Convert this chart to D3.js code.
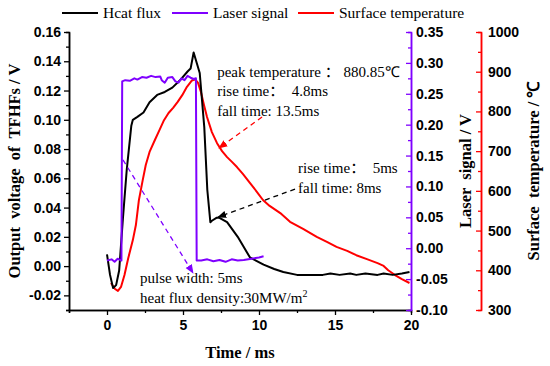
<!DOCTYPE html>
<html>
<head>
<meta charset="utf-8">
<script src="https://cdn.jsdelivr.net/npm/d3@7"></script>
<style>
  body { margin: 0; background: #fff; }
  svg { font-family: "Liberation Serif", "Times New Roman", serif; }
  .tick text { font-weight: bold; font-size: 14px; }
  .label { font-weight: bold; font-size: 16.5px; }
  .note { font-size: 15px; }
  .cjk { font-family: "Noto Sans CJK SC", sans-serif; }
</style>
</head>
<body>
<svg class="js-chart" width="550" height="366"></svg>
<script>
// time axis ticks (ms)
const timeTicks = [0, 5, 10, 15, 20];
const timeMinor = [-2.5, 2.5, 7.5, 12.5, 17.5];
const fluxTicks = [-0.02, 0, 0.02, 0.04, 0.06, 0.08, 0.10, 0.12, 0.14, 0.16];
const fluxMinor = [-0.03, -0.01, 0.01, 0.03, 0.05, 0.07, 0.09, 0.11, 0.13, 0.15];
const laserTicks = [-0.10, -0.05, 0, 0.05, 0.10, 0.15, 0.20, 0.25, 0.30, 0.35];
const laserMinor = [-0.075, -0.025, 0.025, 0.075, 0.125, 0.175, 0.225, 0.275, 0.325];
const tempTicks = [300, 400, 500, 600, 700, 800, 900, 1000];
const tempMinor = [350, 450, 550, 650, 750, 850, 950];

// heat flux (output voltage of TFHFs, V)
const fluxTime = [0, 0.2, 0.4, 0.6, 0.8, 1.05, 1.3, 1.6, 1.7, 2.0, 2.4, 2.8, 3.3, 3.8, 4.3, 4.8, 5.3, 5.5, 5.7,
  5.9, 6.1, 6.4, 6.6, 6.8, 6.9, 7.2, 7.4, 7.9, 8.6, 9.4, 10.3, 11.0, 11.6, 12.5, 13.2, 14.2, 14.7, 15.3, 16.0, 16.4,
  17.0, 17.8, 18.2, 18.8, 19.4, 19.9];
const fluxValue = [0.008, -0.006, -0.015, -0.013, -0.003, 0.033, 0.066, 0.096, 0.100, 0.102, 0.105, 0.112, 0.117,
  0.119, 0.122, 0.127, 0.133, 0.135, 0.146, 0.139, 0.132, 0.095, 0.052, 0.030, 0.031, 0.033, 0.033, 0.030, 0.020,
  0.006, 0.001, -0.002, -0.004, -0.006, -0.006, -0.006, -0.005, -0.006, -0.005, -0.006, -0.005, -0.006, -0.005,
  -0.006, -0.005, -0.004];

// laser signal (V)
const laserTime = [0, 0.3, 0.5, 0.7, 0.95, 1.0, 1.2, 1.5, 1.8, 2.0, 2.3, 2.6, 2.9, 3.2, 3.5, 3.6, 3.8, 4.0, 4.3,
  4.5, 4.7, 4.9, 5.1, 5.3, 5.5, 5.7, 5.85, 5.9, 6.2, 6.6, 7.0, 7.4, 7.8, 8.2, 8.6, 9.0, 9.5, 10.0, 10.3];
const laserValue = [-0.020, -0.018, -0.022, -0.017, -0.020, 0.270, 0.272, 0.271, 0.275, 0.273, 0.277, 0.276, 0.279,
  0.277, 0.278, 0.272, 0.268, 0.276, 0.277, 0.270, 0.268, 0.275, 0.272, 0.279, 0.276, 0.274, 0.275, -0.020, -0.020,
  -0.018, -0.021, -0.019, -0.022, -0.018, -0.020, -0.019, -0.017, -0.015, -0.013];

// surface temperature (°C)
const tempTime = [0.26, 0.53, 0.72, 0.92, 1.15, 1.4, 1.7, 1.9, 2.1, 2.35, 2.55, 2.8, 3.15, 3.45, 3.75, 4.05,
  4.35, 4.65, 4.95, 5.26, 5.59, 5.79, 5.99, 6.18, 6.38, 6.58, 6.9, 7.24, 7.57, 7.9, 8.22, 8.55, 8.95, 9.4, 9.87,
  10.26, 10.7, 11.4, 12.04, 12.9, 13.8, 14.5, 15.1, 15.8, 16.4, 17.1, 17.8, 18.2, 18.5, 18.95, 19.4, 19.9];
const tempValue = [368, 353, 348, 358, 388, 431, 476, 514, 577, 627, 665, 698, 728, 753, 778, 796, 809, 824, 841,
  862, 878, 881, 872, 849, 816, 786, 748, 720, 700, 685, 673, 660, 642, 620, 597, 577, 562, 544, 522, 504, 484,
  471, 459, 449, 438, 428, 418, 411, 400, 388, 378, 368];

const legendNames = ['Hcat flux', 'Laser signal', 'Surface temperature'];
const colors = ['#000000', '#7f00ff', '#ff0000'];

const drawChart = () => {
  const svg = d3.select('.js-chart');
  const plot = {left: 69, right: 411, top: 32, bottom: 310};

  const x = d3.scaleLinear().domain([-2.5, 20]).range([plot.left, plot.right]);
  const yFlux = d3.scaleLinear().domain([-0.03, 0.16]).range([plot.bottom, plot.top]);
  const yLaser = d3.scaleLinear().domain([-0.10, 0.35]).range([plot.bottom, plot.top]);
  const yTemp = d3.scaleLinear().domain([300, 1000]).range([plot.bottom, plot.top]);

  // arrow markers
  const defs = svg.append('defs');
  colors.forEach((c, i) => {
    defs.append('marker')
      .attr('id', 'arrow' + i)
      .attr('viewBox', '0 0 10 10')
      .attr('refX', 9).attr('refY', 5)
      .attr('markerWidth', 7).attr('markerHeight', 7)
      .attr('orient', 'auto')
      .append('path')
      .attr('d', 'M0,1 L10,5 L0,9 Z')
      .attr('fill', c);
  });

  // axes
  const fmt2 = d => d.toFixed(2);
  const styleAxis = (g, color) => {
    g.select('.domain').attr('stroke', color).attr('stroke-width', 1.5);
    g.selectAll('.tick line').attr('stroke', color).attr('stroke-width', 1.3);
    g.selectAll('.tick text').attr('fill', '#000');
  };

  svg.append('g')
    .attr('transform', `translate(0,${plot.bottom})`)
    .call(d3.axisBottom(x).tickValues(timeMinor).tickSize(3).tickFormat(''))
    .call(g => styleAxis(g, '#000'));
  svg.append('g')
    .attr('transform', `translate(0,${plot.bottom})`)
    .call(d3.axisBottom(x).tickValues(timeTicks).tickSize(5).tickSizeOuter(0).tickPadding(5))
    .call(g => styleAxis(g, '#000'));

  svg.append('g')
    .attr('transform', `translate(${plot.left},0)`)
    .call(d3.axisLeft(yFlux).tickValues(fluxMinor).tickSize(3).tickFormat(''))
    .call(g => styleAxis(g, '#000'));
  svg.append('g')
    .attr('transform', `translate(${plot.left},0)`)
    .call(d3.axisLeft(yFlux).tickValues(fluxTicks).tickSize(5).tickSizeOuter(0).tickPadding(3).tickFormat(fmt2))
    .call(g => styleAxis(g, '#000'));

  svg.append('g')
    .attr('transform', `translate(${plot.right},0)`)
    .call(d3.axisRight(yLaser).tickValues(laserMinor).tickSize(-3).tickFormat(''))
    .call(g => styleAxis(g, colors[1]));
  svg.append('g')
    .attr('transform', `translate(${plot.right},0)`)
    .call(d3.axisRight(yLaser).tickValues(laserTicks).tickSize(-5).tickSizeOuter(0).tickPadding(5).tickFormat(fmt2))
    .call(g => styleAxis(g, colors[1]));

  const tempX = 481;
  svg.append('g')
    .attr('transform', `translate(${tempX},0)`)
    .call(d3.axisRight(yTemp).tickValues(tempMinor).tickSize(-3).tickFormat(''))
    .call(g => styleAxis(g, colors[2]));
  svg.append('g')
    .attr('transform', `translate(${tempX},0)`)
    .call(d3.axisRight(yTemp).tickValues(tempTicks).tickSize(-5).tickSizeOuter(0).tickPadding(7).tickFormat(d3.format('d')))
    .call(g => styleAxis(g, colors[2]));

  // lines
  const drawLine = (times, vals, yScale, color) => {
    const line = d3.line().x((d, i) => x(times[i])).y(d => yScale(d));
    svg.append('path')
      .attr('d', line(vals))
      .attr('fill', 'none')
      .attr('stroke', color)
      .attr('stroke-width', 2)
      .attr('stroke-linejoin', 'round');
  };
  drawLine(tempTime, tempValue, yTemp, colors[2]);
  drawLine(fluxTime, fluxValue, yFlux, colors[0]);
  drawLine(laserTime, laserValue, yLaser, colors[1]);

  // annotation arrows (data coordinates)
  const arrow = (x1, y1, x2, y2, yScale, i) => {
    svg.append('line')
      .attr('x1', x(x1)).attr('y1', yScale(y1))
      .attr('x2', x(x2)).attr('y2', yScale(y2))
      .attr('stroke', colors[i])
      .attr('stroke-width', 1.3)
      .attr('stroke-dasharray', '5,4')
      .attr('marker-end', `url(#arrow${i})`);
  };
  arrow(10.2, 786, 7.37, 708, yTemp, 2);
  arrow(12.37, 0.0526, 7.3, 0.0335, yFlux, 0);
  arrow(1.05, 0.143, 5.66, -0.04, yLaser, 1);

  const note = (t, v, lines) => {
    const txt = svg.append('text')
      .attr('class', 'note')
      .attr('x', x(t))
      .attr('y', yFlux(v));
    lines.forEach((s, i) => {
      txt.append('tspan')
        .attr('x', x(t))
        .attr('dy', i === 0 ? 0 : 19.5)
        .style('white-space', 'pre')
        .html(s);
    });
  };
  const colon = '<tspan class="cjk">：</tspan>';
  note(7.25, 0.1295, [`peak temperature ${colon} 880.85℃`, `rise time${colon}  4.8ms`, 'fall time: 13.5ms']);
  note(12.57, 0.0636, [`rise time${colon}  5ms`, 'fall time: 8ms']);
  note(2.17, -0.0116, ['pulse width: 5ms', 'heat flux density:30MW/m<tspan dy="-6" font-size="10">2</tspan>']);

  // axis titles
  svg.append('text')
    .attr('class', 'label')
    .attr('x', (plot.left + plot.right) / 2)
    .attr('y', 358)
    .attr('text-anchor', 'middle')
    .text('Time / ms');

  const yMid = (plot.top + plot.bottom) / 2;
  const vLabel = (cx, txt) => svg.append('text')
    .attr('class', 'label')
    .attr('transform', `translate(${cx},${yMid}) rotate(-90)`)
    .attr('text-anchor', 'middle')
    .style('white-space', 'pre')
    .text(txt);
  vLabel(20, 'Output  voltage  of  TFHFs / V');
  vLabel(471, 'Laser  signal / V');
  vLabel(539, 'Surface  temperature / ℃');

  // legend
  const legendX = [62, 172, 298];
  legendNames.forEach((name, i) => {
    const g = svg.append('g').attr('transform', `translate(${legendX[i]},13)`);
    g.append('line').attr('x1', 0).attr('x2', 36)
      .attr('stroke', colors[i]).attr('stroke-width', 2);
    g.append('text').attr('x', 41).attr('y', 5)
      .style('font-size', '15.5px')
      .text(name);
  });
};

drawChart();
</script>
</body>
</html>
